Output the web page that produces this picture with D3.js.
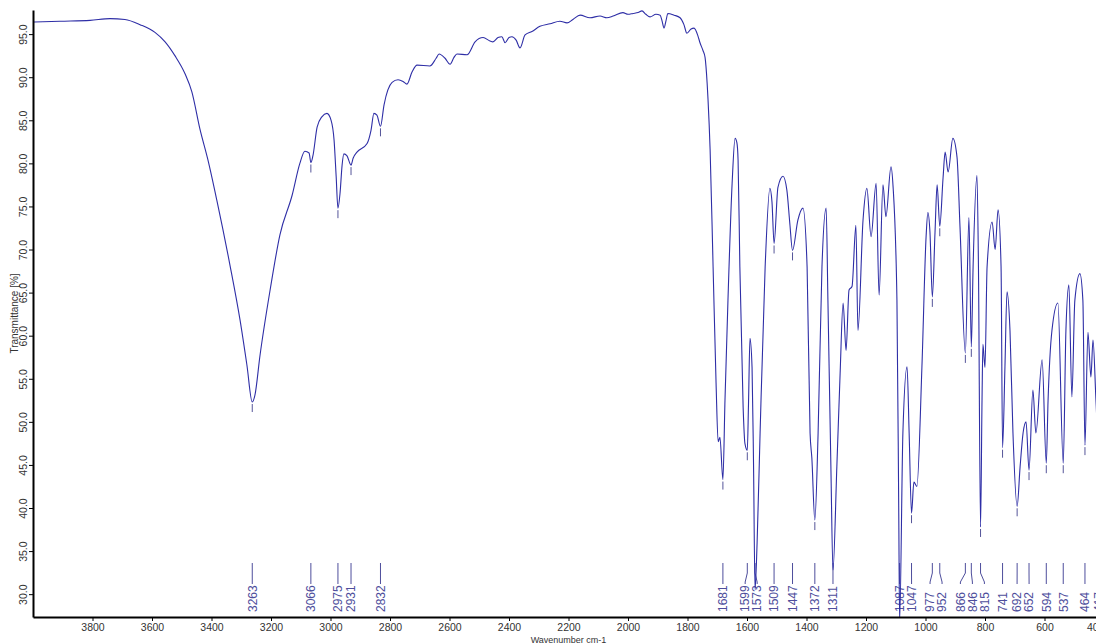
<!DOCTYPE html>
<html>
<head>
<meta charset="utf-8">
<script src="https://cdn.jsdelivr.net/npm/d3@7"></script>
<style>
    html, body { margin: 0; padding: 0; background: #fff; overflow: hidden; }
    svg { display: block; font-family: "Liberation Sans", Arial, sans-serif; }
</style>
</head>
<body>
<div id="spectrum"></div>
<script>
// IR spectrum (wavenumber cm-1 / transmittance %)
const wavenumbers = [
    4000, 3909, 3808, 3741, 3691, 3640, 3590, 3556, 3523, 3489, 3466, 3439, 3412, 3382, 3338, 3304, 3281, 3263, 3254, 3237,
    3203, 3170, 3129, 3103, 3086, 3072, 3066, 3059, 3045, 3029, 3012, 2998, 2988, 2981, 2975, 2968, 2961, 2955, 2945, 2931,
    2924, 2911, 2877, 2864, 2854, 2844, 2832, 2820, 2793, 2773, 2756, 2743, 2726, 2709, 2666, 2645, 2635, 2615, 2598, 2585,
    2575, 2541, 2514, 2487, 2464, 2454, 2437, 2424, 2413, 2400, 2390, 2376, 2363, 2346, 2323, 2296, 2262, 2229, 2205, 2185,
    2161, 2128, 2094, 2071, 2050, 2017, 2000, 1983, 1966, 1953, 1940, 1926, 1906, 1892, 1886, 1879, 1872, 1866, 1845, 1825,
    1812, 1802, 1788, 1778, 1765, 1758, 1748, 1741, 1734, 1731, 1724, 1714, 1704, 1697, 1691, 1681, 1674, 1664, 1650, 1640,
    1634, 1630, 1624, 1613, 1607, 1599, 1595, 1590, 1583, 1578, 1573, 1566, 1556, 1539, 1523, 1516, 1509, 1496, 1479, 1466,
    1456, 1447, 1429, 1412, 1398, 1388, 1382, 1372, 1361, 1348, 1334, 1328, 1318, 1311, 1298, 1287, 1277, 1267, 1257, 1247,
    1234, 1227, 1210, 1197, 1183, 1166, 1156, 1143, 1133, 1116, 1109, 1096, 1090, 1087, 1076, 1062, 1055, 1047, 1039, 1029,
    1012, 998, 992, 985, 977, 968, 961, 952, 941, 934, 924, 908, 894, 884, 866, 854, 846, 840, 827, 822,
    815, 810, 807, 800, 793, 776, 766, 756, 746, 741, 733, 726, 716, 706, 692, 682, 672, 662, 652, 639,
    629, 608, 594, 588, 575, 555, 537, 528, 518, 508, 498, 481, 471, 464, 454, 444, 437, 427, 417, 408, 400
];
const transmittance = [
    96.4, 96.5, 96.6, 96.8, 96.7, 96.1, 95.2, 94.1, 92.5, 90.4, 88.3, 84.0, 80.4, 75.7, 68.2, 61.8, 56.6, 52.3, 53.1, 57.7,
    65.3, 71.7, 76.3, 80.0, 81.4, 81.2, 80.1, 80.9, 84.2, 85.4, 85.8, 85.0, 82.7, 78.5, 74.8, 76.5, 79.8, 81.1, 80.9, 79.8,
    80.6, 81.3, 82.3, 83.8, 85.8, 85.6, 84.3, 86.8, 89.4, 89.7, 89.5, 89.2, 90.6, 91.4, 91.3, 92.2, 92.7, 92.2, 91.5, 92.3,
    92.7, 92.6, 94.1, 94.6, 94.2, 94.1, 94.6, 94.7, 94.0, 94.6, 94.7, 94.3, 93.4, 94.9, 95.3, 95.9, 96.2, 96.5, 96.3, 96.7,
    97.2, 96.9, 97.1, 96.9, 97.1, 97.5, 97.3, 97.4, 97.5, 97.7, 97.3, 97.0, 97.3, 97.2, 96.6, 95.7, 96.6, 97.4, 97.2, 96.9,
    96.1, 95.1, 95.6, 95.7, 94.8, 94.0, 93.1, 92.3, 89.3, 87.4, 81.6, 68.0, 54.5, 47.7, 48.2, 43.3, 52.5, 64.1, 77.7, 82.9,
    82.4, 80.4, 68.0, 51.7, 47.5, 46.7, 52.0, 59.7, 56.3, 45.0, 30.5, 36.0, 48.7, 68.0, 77.1, 75.5, 70.7, 77.2, 78.5, 76.9,
    73.0, 69.9, 73.4, 74.8, 68.0, 48.7, 45.8, 38.6, 48.7, 68.0, 74.8, 64.1, 44.8, 32.8, 44.8, 55.6, 63.8, 58.3, 65.3, 65.7,
    72.8, 60.6, 73.4, 77.1, 71.5, 77.7, 64.7, 77.5, 73.8, 79.6, 77.3, 64.1, 40.0, 26.8, 48.7, 56.4, 48.7, 39.4, 43.0, 42.5,
    56.4, 71.5, 74.3, 72.0, 64.5, 72.0, 77.5, 72.7, 78.3, 81.3, 79.0, 82.9, 80.7, 72.6, 58.0, 73.7, 58.7, 68.0, 78.6, 68.0,
    37.8, 52.5, 59.0, 56.3, 68.0, 73.2, 70.0, 74.6, 68.0, 47.0, 56.3, 65.1, 60.6, 48.7, 40.2, 44.8, 48.7, 50.0, 44.4, 53.7,
    48.7, 57.2, 45.2, 52.5, 60.6, 63.8, 45.2, 60.6, 65.9, 52.9, 64.1, 67.2, 64.1, 47.3, 60.4, 55.2, 59.5, 52.5, 46.0, 55.0, 58.0
];
const peakLabels = [3263, 3066, 2975, 2931, 2832, 1681, 1599, 1573, 1509, 1447, 1372, 1311,
    1087, 1047, 977, 952, 866, 846, 815, 741, 692, 652, 594, 537, 464, 417];
const xTicks = [3800, 3600, 3400, 3200, 3000, 2800, 2600, 2400, 2200, 2000, 1800, 1600, 1400, 1200, 1000, 800, 600, 400];
const yTicks = [30, 35, 40, 45, 50, 55, 60, 65, 70, 75, 80, 85, 90, 95];

const width = 1096, height = 644;
const plot = {left: 33, top: 10, right: 1104, bottom: 617};
const curveColor = "#2e2ea6";
const labelColor = "#4e4e9c";

const svg = d3.select("#spectrum")
    .append("svg")
    .attr("width", width)
    .attr("height", height);

const x = d3.scaleLinear().domain([4000, 400]).range([plot.left, plot.right]);
const y = d3.scaleLinear().domain([27.35, 97.8]).range([plot.bottom, plot.top]);

svg.append("clipPath")
    .attr("id", "plot-clip")
    .append("rect")
    .attr("x", plot.left)
    .attr("y", plot.top)
    .attr("width", plot.right - plot.left)
    .attr("height", plot.bottom - plot.top);

// peak labels at the bottom, spread so they do not overlap
const peaks = peakLabels.map(w => ({w: w, px: x(w), t: transmittance[wavenumbers.indexOf(w)]}))
    .sort((a, b) => a.px - b.px);

function spreadLabels(xs, gap) {
    let groups = xs.map(v => ({sum: v, n: 1, start: v}));
    let merged = true;
    while (merged) {
        merged = false;
        for (let i = 0; i < groups.length - 1; i++) {
            const a = groups[i], b = groups[i + 1];
            if (a.start + a.n * gap > b.start) {
                const g = {sum: a.sum + b.sum, n: a.n + b.n};
                g.start = g.sum / g.n - (g.n - 1) * gap / 2;
                groups.splice(i, 2, g);
                merged = true;
                break;
            }
        }
    }
    let out = [];
    groups.forEach(g => {
        for (let k = 0; k < g.n; k++) out.push(g.start + k * gap);
    });
    return out;
}

const labelX = spreadLabels(peaks.map(p => p.px), 12);
peaks.forEach((p, i) => p.lx = labelX[i]);

const labels = svg.append("g");

labels.selectAll("path")
    .data(peaks)
    .enter()
    .append("path")
    .attr("d", d => `M${d.px},563V573L${d.lx},582V584`)
    .attr("fill", "none")
    .attr("stroke", labelColor)
    .attr("stroke-width", 1);

labels.selectAll("text")
    .data(peaks)
    .enter()
    .append("text")
    .attr("transform", d => `translate(${d.lx},612) rotate(-90)`)
    .attr("dy", "0.36em")
    .attr("text-anchor", "start")
    .attr("font-size", "12px")
    .attr("fill", labelColor)
    .text(d => d.w);

// short marks under each labelled minimum
svg.append("g")
    .selectAll("line")
    .data(peaks.filter(p => y(p.t) + 10 < 560))
    .enter()
    .append("line")
    .attr("x1", d => d.px)
    .attr("x2", d => d.px)
    .attr("y1", d => y(d.t) + 2)
    .attr("y2", d => y(d.t) + 10)
    .attr("stroke", "#555599")
    .attr("stroke-width", 1);

// spectrum
const line = d3.line()
    .x((d, i) => x(wavenumbers[i]))
    .y(d => y(d))
    .curve(d3.curveMonotoneX);

svg.append("path")
    .datum(transmittance)
    .attr("clip-path", "url(#plot-clip)")
    .attr("d", line)
    .attr("fill", "none")
    .attr("stroke", curveColor)
    .attr("stroke-width", 1.1)
    .attr("stroke-linejoin", "round");

// axes
const xAxis = svg.append("g")
    .attr("transform", `translate(0,${plot.bottom})`)
    .call(d3.axisBottom(x).tickValues(xTicks).tickSize(4).tickSizeOuter(0).tickFormat(d3.format("d")));

xAxis.select(".domain").attr("stroke-width", 2);
xAxis.selectAll(".tick text")
    .attr("y", 7)
    .attr("font-size", "10.5px")
    .attr("font-family", "Liberation Sans, Arial, sans-serif")
    .attr("fill", "#333")
    .attr("text-anchor", d => d === 400 ? "end" : "middle");

const yAxis = svg.append("g")
    .attr("transform", `translate(${plot.left},0)`)
    .call(d3.axisLeft(y).tickValues(yTicks).tickSize(4).tickSizeOuter(0).tickFormat(d3.format(".1f")));

yAxis.select(".domain").attr("stroke-width", 2);
yAxis.selectAll(".tick text")
    .attr("transform", "rotate(-90)")
    .attr("x", 0)
    .attr("y", -6)
    .attr("dy", "0")
    .attr("text-anchor", "middle")
    .attr("font-size", "10.5px")
    .attr("font-family", "Liberation Sans, Arial, sans-serif")
    .attr("fill", "#333");

svg.append("text")
    .attr("transform", `translate(18,${(plot.top + plot.bottom) / 2}) rotate(-90)`)
    .attr("text-anchor", "middle")
    .attr("font-size", "10px")
    .attr("fill", "#333")
    .text("Transmittance [%]");

svg.append("text")
    .attr("x", (plot.left + plot.right) / 2)
    .attr("y", 642.5)
    .attr("text-anchor", "middle")
    .attr("font-size", "9px")
    .attr("fill", "#333")
    .text("Wavenumber cm-1");
</script>
</body>
</html>
